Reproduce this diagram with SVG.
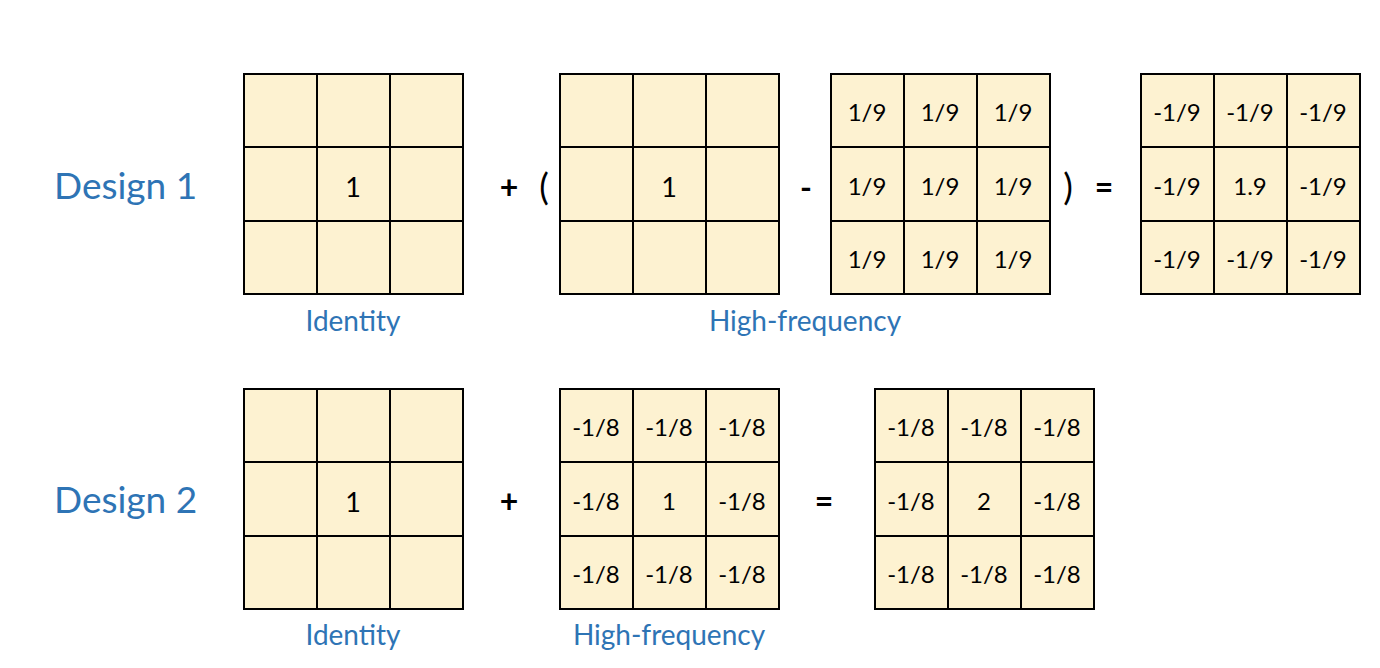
<svg xmlns="http://www.w3.org/2000/svg" width="1380" height="668" viewBox="0 0 1380 668">
<style>
.cell{fill:#FDF2D1;stroke:#000;stroke-width:2}
.v{font-family:Lato,"Liberation Sans",sans-serif;font-size:24px;fill:#000;text-anchor:middle;dominant-baseline:central}
.big{font-size:27px}
.op{font-family:Lato,"Liberation Sans",sans-serif;font-size:32px;font-weight:bold;fill:#000;text-anchor:middle;dominant-baseline:central}
.title{font-family:Lato,"Liberation Sans",sans-serif;font-size:37px;fill:#2E74B5}
.lbl{font-family:Lato,"Liberation Sans",sans-serif;font-size:28px;fill:#2E74B5;text-anchor:middle}
</style>
<defs>
<g id="grid">
<rect class="cell" x="0" y="0" width="73" height="73"/>
<rect class="cell" x="73" y="0" width="73" height="73"/>
<rect class="cell" x="146" y="0" width="73" height="73"/>
<rect class="cell" x="0" y="73" width="73" height="74"/>
<rect class="cell" x="73" y="73" width="73" height="74"/>
<rect class="cell" x="146" y="73" width="73" height="74"/>
<rect class="cell" x="0" y="147" width="73" height="73"/>
<rect class="cell" x="73" y="147" width="73" height="73"/>
<rect class="cell" x="146" y="147" width="73" height="73"/>
</g>
</defs>
<rect width="1380" height="668" fill="#fff"/>

<text class="title" x="54" y="199">Design 1</text>
<text class="title" x="54" y="513">Design 2</text>

<g id="d1-identity">
<use href="#grid" x="244" y="74"/>
<text class="v big" x="353" y="186">1</text>
<text class="lbl" x="353" y="331">Identity</text>
</g>

<g id="d1-delta">
<use href="#grid" x="560" y="74"/>
<text class="v big" x="669" y="186">1</text>
</g>

<g id="d1-avg">
<use href="#grid" x="831" y="74"/>
<text class="v" x="867" y="111">1/9</text>
<text class="v" x="940" y="111">1/9</text>
<text class="v" x="1013" y="111">1/9</text>
<text class="v" x="867" y="185">1/9</text>
<text class="v" x="940" y="185">1/9</text>
<text class="v" x="1013" y="185">1/9</text>
<text class="v" x="867" y="258">1/9</text>
<text class="v" x="940" y="258">1/9</text>
<text class="v" x="1013" y="258">1/9</text>
</g>
<text class="lbl" x="805" y="331">High-frequency</text>

<g id="d1-result">
<use href="#grid" x="1141" y="74"/>
<text class="v" x="1177" y="111">-1/9</text>
<text class="v" x="1250" y="111">-1/9</text>
<text class="v" x="1323" y="111">-1/9</text>
<text class="v" x="1177" y="185">-1/9</text>
<text class="v" x="1250" y="185">1.9</text>
<text class="v" x="1323" y="185">-1/9</text>
<text class="v" x="1177" y="258">-1/9</text>
<text class="v" x="1250" y="258">-1/9</text>
<text class="v" x="1323" y="258">-1/9</text>
</g>

<g id="d1-ops">
<text class="op" x="509" y="186">+</text>
<text class="op" x="544" y="186" style="font-weight:normal;font-size:36px">(</text>
<text class="op" x="806" y="186">-</text>
<text class="op" x="1068" y="186" style="font-weight:normal;font-size:36px">)</text>
<text class="op" x="1104" y="186">=</text>
</g>

<g id="d2-identity">
<use href="#grid" x="244" y="389"/>
<text class="v big" x="353" y="501">1</text>
<text class="lbl" x="353" y="645">Identity</text>
</g>

<g id="d2-hf">
<use href="#grid" x="560" y="389"/>
<text class="v" x="596" y="426">-1/8</text>
<text class="v" x="669" y="426">-1/8</text>
<text class="v" x="742" y="426">-1/8</text>
<text class="v" x="596" y="500">-1/8</text>
<text class="v" x="669" y="500">1</text>
<text class="v" x="742" y="500">-1/8</text>
<text class="v" x="596" y="573">-1/8</text>
<text class="v" x="669" y="573">-1/8</text>
<text class="v" x="742" y="573">-1/8</text>
<text class="lbl" x="669" y="645">High-frequency</text>
</g>

<g id="d2-result">
<use href="#grid" x="875" y="389"/>
<text class="v" x="911" y="426">-1/8</text>
<text class="v" x="984" y="426">-1/8</text>
<text class="v" x="1057" y="426">-1/8</text>
<text class="v" x="911" y="500">-1/8</text>
<text class="v" x="984" y="500">2</text>
<text class="v" x="1057" y="500">-1/8</text>
<text class="v" x="911" y="573">-1/8</text>
<text class="v" x="984" y="573">-1/8</text>
<text class="v" x="1057" y="573">-1/8</text>
</g>

<g id="d2-ops">
<text class="op" x="509" y="500">+</text>
<text class="op" x="824" y="500">=</text>
</g>
</svg>
